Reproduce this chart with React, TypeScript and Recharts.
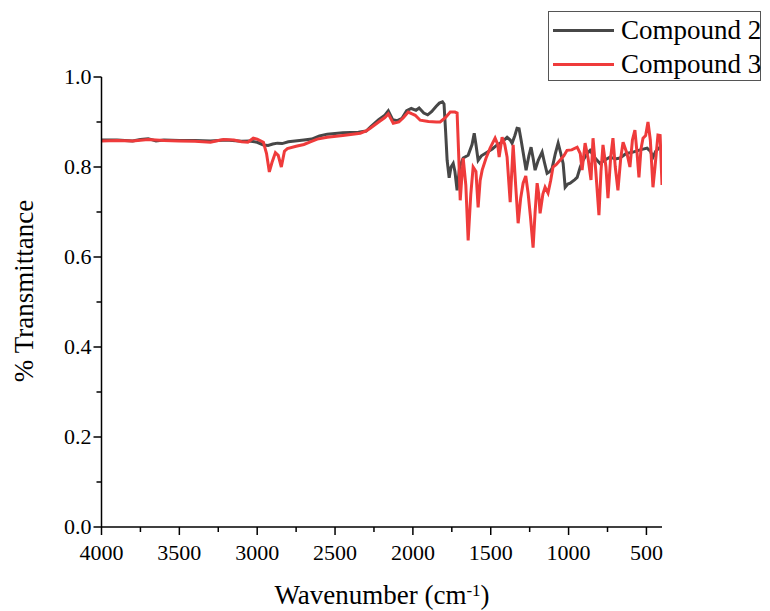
import React from 'react';
import { LineChart, Line, XAxis, YAxis } from 'recharts';

// Compound 2 (gray)
const wn2 = [
  4000, 3900, 3800, 3750, 3700, 3650, 3600, 3500, 3400, 3300, 3200, 3100, 3050, 3000, 2960, 2930, 2900, 2870, 2840, 2800,
  2700, 2650, 2600, 2550, 2450, 2350, 2300, 2270, 2220, 2180, 2158, 2130, 2100, 2070, 2040, 2010, 1980, 1960, 1930, 1905,
  1880, 1850, 1830, 1810, 1800, 1790, 1780, 1767, 1755, 1741, 1730, 1716, 1700, 1677, 1645, 1620, 1606, 1595, 1581, 1560,
  1523, 1490, 1459, 1430, 1395, 1375, 1363, 1345, 1331, 1318, 1305, 1292, 1273, 1255, 1241, 1228, 1215, 1195, 1170, 1155,
  1138, 1120, 1106, 1085, 1067, 1050, 1035, 1022, 1005, 990, 960, 945, 925, 907, 880, 862, 830, 798, 770, 734,
  700, 670, 630, 586, 540, 496, 475, 458, 440, 413, 400,
];
const t2 = [
  0.86, 0.86, 0.858, 0.861, 0.863, 0.858, 0.86, 0.859, 0.859, 0.858, 0.86, 0.857, 0.858, 0.855, 0.849, 0.848, 0.851, 0.853, 0.852, 0.856,
  0.86, 0.862, 0.869, 0.873, 0.876, 0.877, 0.88, 0.89, 0.905, 0.915, 0.925, 0.905, 0.903, 0.908, 0.925, 0.93, 0.926, 0.931, 0.92, 0.916,
  0.923, 0.935, 0.942, 0.945, 0.94, 0.88, 0.815, 0.776, 0.8, 0.808, 0.79, 0.748, 0.8, 0.82, 0.826, 0.85, 0.875, 0.85, 0.815, 0.825,
  0.833, 0.84, 0.849, 0.855, 0.866, 0.86, 0.853, 0.87, 0.886, 0.885, 0.86, 0.833, 0.793, 0.825, 0.844, 0.82, 0.793, 0.815, 0.833, 0.81,
  0.786, 0.79, 0.797, 0.83, 0.853, 0.83, 0.808, 0.755, 0.762, 0.764, 0.772, 0.777, 0.8, 0.815, 0.83, 0.837, 0.82, 0.808, 0.815, 0.822,
  0.818, 0.82, 0.83, 0.833, 0.838, 0.842, 0.835, 0.822, 0.835, 0.844, 0.84,
];

// Compound 3 (red)
const wn3 = [
  4000, 3900, 3800, 3700, 3600, 3500, 3400, 3300, 3250, 3217, 3150, 3100, 3060, 3025, 3000, 2960, 2940, 2922, 2905, 2883,
  2865, 2845, 2825, 2806, 2750, 2700, 2659, 2614, 2550, 2450, 2338, 2300, 2274, 2220, 2180, 2158, 2126, 2090, 2060, 2030,
  2005, 1985, 1953, 1900, 1850, 1825, 1790, 1760, 1730, 1716, 1705, 1696, 1677, 1660, 1645, 1628, 1613, 1595, 1581, 1568,
  1555, 1530, 1504, 1472, 1455, 1446, 1427, 1410, 1395, 1375, 1356, 1340, 1324, 1308, 1292, 1275, 1260, 1245, 1228, 1215,
  1202, 1192, 1183, 1165, 1151, 1132, 1115, 1100, 1080, 1055, 1030, 1010, 980, 945, 925, 913, 894, 875, 856, 843,
  825, 805, 792, 779, 760, 747, 730, 715, 700, 683, 665, 650, 625, 606, 590, 574, 560, 548, 535, 522,
  505, 490, 475, 458, 445, 426, 412, 400,
];
const t3 = [
  0.858, 0.859, 0.858, 0.861, 0.859, 0.858, 0.857, 0.855, 0.859, 0.861, 0.86, 0.856, 0.855, 0.864, 0.862, 0.855, 0.83, 0.789, 0.81, 0.832,
  0.826, 0.8, 0.835, 0.841, 0.846, 0.85, 0.856, 0.862, 0.866, 0.87, 0.875, 0.88, 0.886, 0.9, 0.91, 0.918, 0.897, 0.9, 0.91, 0.922,
  0.918, 0.915, 0.904, 0.901, 0.9, 0.9, 0.91, 0.922, 0.922, 0.92, 0.82, 0.726, 0.82, 0.76, 0.637, 0.74, 0.8, 0.79, 0.71, 0.77,
  0.793, 0.82, 0.842, 0.864, 0.85, 0.822, 0.866, 0.85, 0.822, 0.722, 0.849, 0.76, 0.675, 0.73, 0.764, 0.78, 0.742, 0.69, 0.621, 0.7,
  0.764, 0.74, 0.697, 0.74, 0.755, 0.742, 0.77, 0.8, 0.805, 0.815, 0.825, 0.837, 0.838, 0.844, 0.83, 0.793, 0.853, 0.82, 0.771, 0.864,
  0.79, 0.693, 0.79, 0.849, 0.8, 0.731, 0.82, 0.864, 0.8, 0.748, 0.82, 0.855, 0.83, 0.8, 0.86, 0.882, 0.83, 0.777, 0.84, 0.864,
  0.87, 0.9, 0.86, 0.755, 0.8, 0.871, 0.87, 0.76,
];

const xTicks = [4000, 3750, 3500, 3250, 3000, 2750, 2500, 2250, 2000, 1750, 1500, 1250, 1000, 750, 500];
const yTicks = [0, 0.1, 0.2, 0.3, 0.4, 0.5, 0.6, 0.7, 0.8, 0.9, 1.0];

const series = [
  { name: 'Compound 2', color: '#474747', data: wn2.map((wn, i) => ({ wn, t: t2[i] })) },
  { name: 'Compound 3', color: '#ef3b3b', data: wn3.map((wn, i) => ({ wn, t: t3[i] })) },
];

const font = "'Times New Roman', 'Liberation Serif', Times, 'DejaVu Serif', serif";

const XTick = (props: any) => {
  const { x, y, payload } = props;
  const major = payload.value % 500 === 0;
  return (
    <g>
      <line x1={x} x2={x} y1={y} y2={y + (major ? 8 : 5)} stroke="#000" strokeWidth={1.5} />
      {major && (
        <text x={x} y={y + 33} textAnchor="middle" style={{ fontFamily: font, fontSize: 22 }} fill="#000">
          {payload.value}
        </text>
      )}
    </g>
  );
};

const YTick = (props: any) => {
  const { x, y, payload } = props;
  const major = Math.round(payload.value * 10) % 2 === 0;
  return (
    <g>
      <line x1={x} x2={x - (major ? 8 : 5)} y1={y} y2={y} stroke="#000" strokeWidth={1.5} />
      {major && (
        <text x={x - 10} y={y + 7} textAnchor="end" style={{ fontFamily: font, fontSize: 22 }} fill="#000">
          {payload.value.toFixed(1)}
        </text>
      )}
    </g>
  );
};

export default function App() {
  return (
    <div style={{ position: 'absolute', left: 0, top: 0, width: 770, height: 611, background: '#fff', fontFamily: font }}>
      <LineChart width={770} height={611} margin={{ top: 77, right: 108, bottom: 54, left: 41.5 }}>
        <XAxis
          type="number"
          dataKey="wn"
          domain={[400, 4000]}
          reversed
          allowDataOverflow
          ticks={xTicks}
          interval={0}
          tickSize={0}
          tickMargin={0}
          tickLine={false}
          tick={<XTick />}
          axisLine={{ stroke: '#000', strokeWidth: 1.5 }}
        />
        <YAxis
          type="number"
          dataKey="t"
          domain={[0, 1]}
          ticks={yTicks}
          interval={0}
          tickSize={0}
          tickMargin={0}
          tickLine={false}
          tick={<YTick />}
          axisLine={{ stroke: '#000', strokeWidth: 1.5 }}
        />
        {series.map((s) => (
          <Line
            key={s.name}
            data={s.data}
            dataKey="t"
            name={s.name}
            stroke={s.color}
            strokeWidth={3}
            dot={false}
            type="linear"
            isAnimationActive={false}
          />
        ))}
      </LineChart>

      <div
        style={{
          position: 'absolute',
          left: 24,
          top: 291,
          transform: 'translate(-50%, -50%) rotate(-90deg)',
          whiteSpace: 'nowrap',
          fontSize: 27,
          lineHeight: '27px',
          color: '#000',
        }}
      >
        % Transmittance
      </div>

      <div
        style={{
          position: 'absolute',
          left: 382,
          top: 582,
          transform: 'translateX(-50%)',
          whiteSpace: 'nowrap',
          fontSize: 27,
          lineHeight: '27px',
          color: '#000',
        }}
      >
        Wavenumber (cm<sup style={{ fontSize: 17, verticalAlign: 'top', lineHeight: '17px' }}>-1</sup>)
      </div>

      <div
        style={{
          position: 'absolute',
          left: 548,
          top: 11,
          width: 213,
          height: 70,
          border: '1px solid #555',
          boxSizing: 'border-box',
          paddingTop: 1,
        }}
      >
        {series.map((s) => (
          <div key={s.name} style={{ display: 'flex', alignItems: 'center', height: 34, whiteSpace: 'nowrap' }}>
            <div style={{ width: 61, height: 3, background: s.color, marginLeft: 4, marginRight: 7, flexShrink: 0 }} />
            <span style={{ fontSize: 27, lineHeight: '27px', color: '#000' }}>{s.name}</span>
          </div>
        ))}
      </div>
    </div>
  );
}
